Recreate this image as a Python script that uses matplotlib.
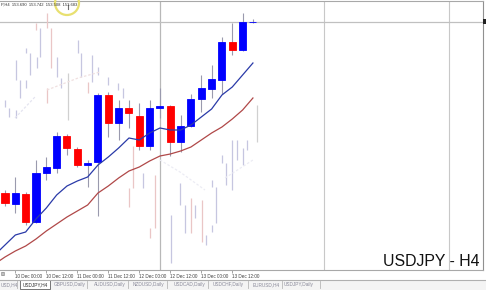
import matplotlib
matplotlib.use("Agg")
import matplotlib.pyplot as plt
from matplotlib.patches import Rectangle, Ellipse
from matplotlib.lines import Line2D

# ---------------- data ----------------
symbol_title = "USDJPY - H4"
header_text = "P,H4  153.690  153.742  153.508  153.683"

# H4 candles, index 0 = 9 Dec 20:00
opens  = [150.947, 150.771, 150.931, 150.483, 151.267, 151.347, 151.859, 151.651, 151.395,
          151.443, 152.515, 152.067, 152.307, 152.179, 151.699, 152.307, 152.339, 151.763,
          152.019, 152.451, 152.611, 152.755, 153.363, 153.235, 153.683]
highs  = [150.995, 151.203, 150.963, 151.475, 151.523, 151.923, 151.891, 151.683, 151.475,
          152.547, 152.563, 152.435, 152.435, 152.387, 152.435, 152.627, 152.355, 152.195,
          152.531, 152.835, 152.995, 153.443, 153.667, 153.827, 153.730]
lows   = [150.739, 150.627, 150.435, 150.467, 151.155, 151.267, 151.555, 151.363, 151.043,
          150.579, 151.843, 151.795, 151.987, 151.635, 151.635, 152.147, 151.539, 151.603,
          152.003, 152.243, 152.467, 152.531, 153.155, 153.219, 153.660]
closes = [150.787, 150.947, 150.483, 151.267, 151.363, 151.859, 151.667, 151.395, 151.427,
          152.515, 152.067, 152.307, 152.227, 151.699, 152.307, 152.339, 151.763, 152.019,
          152.451, 152.627, 152.771, 153.363, 153.235, 153.683, 153.683]

# moving averages, index -1 .. 24
ma_index = list(range(-1, 25))
ma_fast = [149.955, 150.115, 150.275, 150.323, 150.531, 150.707, 150.915, 151.059, 151.139,
           151.203, 151.395, 151.523, 151.667, 151.827, 151.795, 151.907, 151.987, 151.955,
           151.955, 152.035, 152.163, 152.291, 152.515, 152.643, 152.835, 153.027]
ma_slow = [149.811, 149.923, 150.019, 150.099, 150.211, 150.339, 150.451, 150.563, 150.659,
           150.755, 150.947, 151.059, 151.187, 151.299, 151.363, 151.459, 151.539, 151.571,
           151.619, 151.683, 151.795, 151.907, 152.003, 152.131, 152.275, 152.467]

# faded "ghost" wicks from the previous frame (position, high, low, tint)
ghost_pos  = [0.0, 0.39, 1.06, 1.06, 1.45, 2.03, 2.03, 2.42, 3.0, 3.10, 3.39, 4.07, 4.07, 4.45,
              5.03, 5.42, 6.10, 7.07, 7.36, 8.03, 8.42, 9.0, 9.97, 10.94, 11.42,
              12.0, 12.39, 13.36, 14.04, 14.52, 16.07, 16.94, 17.42, 18.0, 18.39, 19.07, 19.46,
              20.04, 20.04, 20.43, 21.0, 21.39, 21.97, 22.46, 23.04, 23.43, 24.39]
ghost_high = [152.435, 152.307, 153.075, 152.275, 152.755, 153.267, 152.755, 153.187, 153.667,
              153.123, 153.587, 153.827, 152.627, 153.587, 153.123, 152.787, 152.867, 153.395,
              153.187, 152.723, 153.155, 152.963, 152.803, 152.707, 152.627,
              151.027, 151.699, 151.267, 150.387, 151.235, 150.595, 151.107, 150.755, 150.867,
              150.755, 150.835, 150.275, 151.155, 150.435, 151.043, 151.555, 151.427, 151.795,
              151.795, 151.667, 151.795, 152.355]
ghost_low  = [152.323, 152.163, 152.755, 152.147, 152.467, 153.187, 152.627, 152.835, 153.555,
              152.947, 153.123, 153.587, 152.387, 152.947, 152.803, 152.627, 152.115, 153.187,
              152.803, 152.547, 152.723, 152.835, 152.675, 152.595, 152.467,
              150.723, 151.027, 151.027, 150.227, 150.387, 149.827, 150.755, 150.307, 150.307,
              150.547, 150.163, 150.115, 151.043, 150.323, 150.467, 151.427, 151.075, 150.995,
              151.475, 151.395, 151.635, 151.763]
ghost_tint = ["b", "b", "b", "b", "b", "b", "b", "b", "p", "b", "b", "p", "p", "p",
              "b", "b", "g", "b", "b", "p", "b", "b", "b", "b", "b",
              "p", "p", "b", "p", "p", "b", "b", "b", "p", "b", "p", "b",
              "b", "b", "b", "b", "b", "b", "b", "b", "b", "g"]

ghost_ma_a_x = [0.97, 2.9];          ghost_ma_a_y = [152.147, 152.483]
ghost_ma_b_x = [4.07, 7.07, 9.2];    ghost_ma_b_y = [152.595, 152.787, 152.883]
ghost_ma_c_x = [15.0, 16.94, 19.36]; ghost_ma_c_y = [151.475, 151.283, 150.995]
ghost_ma_d_x = [21.3, 24.0];         ghost_ma_d_y = [151.187, 151.475]

tick_pos = [1, 4, 7, 10, 13, 16, 19, 22]
tick_labels = ["10 Dec 00:00", "10 Dec 12:00", "11 Dec 00:00", "11 Dec 12:00",
               "12 Dec 00:00", "12 Dec 12:00", "13 Dec 00:00", "13 Dec 12:00"]
cut_label = "00"          # visible tail of the "9 Dec 12:00" label at the left edge

crosshair_x = 15.0
crosshair_price = 153.683
grid_x = [30.88, 42.98]

tabs = ["GBPUSD,Daily", "AUDUSD,Daily", "NZDUSD,Daily", "USDCAD,Daily",
        "USDCHF,Daily", "EURUSD,H4", "USDJPY,Daily"]
tab_centers_px = [70, 110, 148, 189, 228, 266, 299]
tab_seps_px = [17, 87, 128, 167, 208, 248, 282, 320]
cut_tab = "USD,H4"        # visible tail of the tab cut by the left edge

# ---------------- figure ----------------
W, H = 486, 290
fig = plt.figure(figsize=(W / 100, H / 100), dpi=100)
fig.patch.set_facecolor("white")
FONT = "Liberation Sans"

def fx(px):
    return px / W

def fy(py):
    return 1 - py / H

ax = fig.add_axes([0, fy(270), fx(483), fy(1) - fy(270)])
ax.set_facecolor("white")

# grid / crosshair
for gx in grid_x:
    ax.axvline(gx, color="#c8c8c8", lw=0.8, zorder=0)
ax.axvline(crosshair_x, color="#b8b8b8", lw=0.9, zorder=0.5)
ax.axhline(crosshair_price, color="#c0c0c0", lw=0.9, zorder=0.5)

# ghost layer
tint_col = {"b": "#c6c6e0", "p": "#eac6c6", "g": "#d0d0d0"}
for x, hi, lo, t in zip(ghost_pos, ghost_high, ghost_low, ghost_tint):
    ax.plot([x, x], [lo, hi], color=tint_col[t], lw=0.9, zorder=1, solid_capstyle="butt")
for gxs, gys, c in [(ghost_ma_a_x, ghost_ma_a_y, "#e4e4f0"), (ghost_ma_b_x, ghost_ma_b_y, "#f0e0e0"),
                    (ghost_ma_c_x, ghost_ma_c_y, "#ececf4"), (ghost_ma_d_x, ghost_ma_d_y, "#ececf4")]:
    ax.plot(gxs, gys, color=c, lw=0.9, ls=(0, (2, 1.5)), zorder=1)

# candles
body_w = 0.68
for i, (o, h, l, c) in enumerate(zip(opens, highs, lows, closes)):
    up = c >= o
    col = "#0000ff" if up else "#ff0000"
    ax.plot([i, i], [l, h], color="#9a9aae", lw=0.8, zorder=2, solid_capstyle="butt")
    lo_b, hi_b = min(o, c), max(o, c)
    ax.add_patch(Rectangle((i - body_w / 2, lo_b), body_w, max(hi_b - lo_b, 0.004),
                           facecolor=col, edgecolor=col, lw=0.6, zorder=3))

# moving averages
ax.plot(ma_index, ma_fast, color="#2a3aa8", lw=0.9, zorder=4)
ax.plot(ma_index, ma_slow, color="#b04848", lw=0.9, zorder=4)

# axes frame
ax.spines["left"].set_visible(False)
for s in ["top", "bottom"]:
    ax.spines[s].set_color("#a8a8a8")
    ax.spines[s].set_linewidth(0.8)
ax.spines["right"].set_color("#909090")
ax.spines["right"].set_linewidth(0.8)
ax.set_yticks([])
ax.set_xticks(tick_pos)
ax.set_xticklabels(tick_labels, fontsize=3.3, family=FONT, color="#404040", ha="left")
ax.tick_params(axis="x", length=2, width=0.5, color="#808080", pad=1.2)
ax.set_xlim(-0.484, 46.27)
ax.set_ylim(149.715, 154.019)

fig.text(fx(0.5), fy(274.5), cut_label, ha="left", va="center",
         fontsize=3.3, family=FONT, color="#404040")

# title
fig.text(fx(479), fy(266), symbol_title, ha="right", va="baseline",
         fontsize=11.4, family=FONT, color="#111111")

# header
fig.text(fx(0.5), fy(4.5), header_text, ha="left", va="center",
         fontsize=3.0, family=FONT, color="#303030")

# cursor highlight circle
fig.add_artist(Ellipse((fx(67), fy(3)), 24 / W, 24 / H, transform=fig.transFigure,
                       facecolor="none", edgecolor="#e8e070", lw=1.6))
fig.add_artist(Line2D([fx(68), fx(68)], [fy(5), fy(9)], transform=fig.transFigure,
                      color="#707070", lw=0.8))

# price marker at right
fig.add_artist(Rectangle((fx(483), fy(24)), 3 / W, 5 / H, transform=fig.transFigure,
                         facecolor="#202020", edgecolor="none"))

# separator under time labels and tab bar
fig.add_artist(Rectangle((0, 0), 1, fy(279.5), transform=fig.transFigure,
                         facecolor="#f4f4f4", edgecolor="none", zorder=0))
fig.add_artist(Line2D([0, fx(486)], [fy(279.5), fy(279.5)], transform=fig.transFigure,
                      color="#b0b0b0", lw=0.8))
fig.add_artist(Rectangle((fx(20), fy(289)), 30 / W, 9 / H, transform=fig.transFigure,
                         facecolor="white", edgecolor="#606060", lw=0.6))
fig.text(fx(35), fy(284.5), "USDJPY,H4", ha="center", va="center",
         fontsize=3.4, family=FONT, color="#303030")
fig.text(fx(1), fy(284.5), cut_tab, ha="left", va="center",
         fontsize=3.4, family=FONT, color="#8a8a9a")
for name, cx in zip(tabs, tab_centers_px):
    fig.text(fx(cx), fy(284.5), name, ha="center", va="center",
             fontsize=3.4, family=FONT, color="#8a8a9a")
for sx in tab_seps_px:
    fig.add_artist(Line2D([fx(sx), fx(sx)], [fy(281), fy(288)], transform=fig.transFigure,
                          color="#b8b8b8", lw=0.6))

fig.savefig("out.png", dpi=100, facecolor="white")
